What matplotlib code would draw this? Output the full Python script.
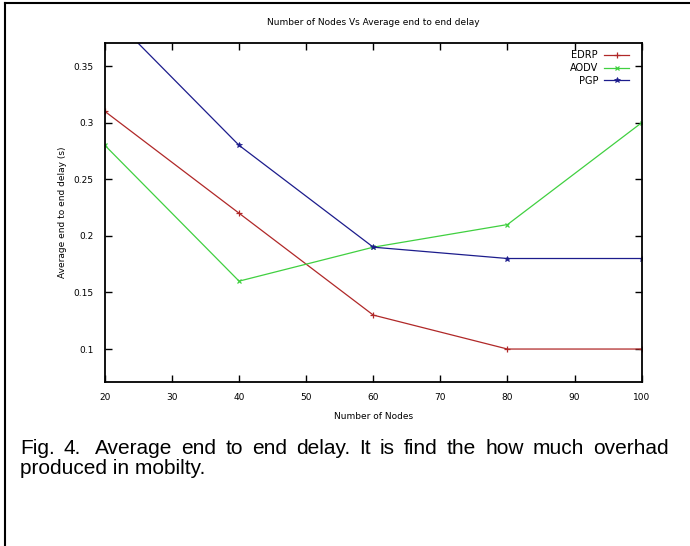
import matplotlib.pyplot as plt
from matplotlib.lines import Line2D

# data
nodes = [20, 40, 60, 80, 100]
edrp = [0.31, 0.22, 0.13, 0.10, 0.10]
aodv = [0.28, 0.16, 0.19, 0.21, 0.30]
pgp = [0.40, 0.28, 0.19, 0.18, 0.18]

x_ticks = [20, 30, 40, 50, 60, 70, 80, 90, 100]
y_ticks = [0.1, 0.15, 0.2, 0.25, 0.3, 0.35]
y_tick_labels = ['0.1', '0.15', '0.2', '0.25', '0.3', '0.35']

caption_1 = "Fig. 4.  Average end to end delay. It is find the how much overhad"
caption_2 = "produced in mobilty."

fig = plt.figure(figsize=(6.9, 5.46), dpi=100)
ax = fig.add_axes([0.152, 0.300, 0.778, 0.621])

c_red = '#b02828'
c_green = '#40d040'
c_blue = '#1c1c8c'

ax.plot(nodes, edrp, color=c_red, lw=0.9, marker='+', ms=4, mew=0.9, label='EDRP')
ax.plot(nodes, aodv, color=c_green, lw=0.9, marker='x', ms=3, mew=0.9, label='AODV')
ax.plot(nodes, pgp, color=c_blue, lw=0.9, marker='*', ms=4, mew=0.5, label='PGP')

ax.set_xlim(20, 100)
ax.set_ylim(0.0707, 0.3703)
ax.set_xticks(x_ticks)
ax.set_yticks(y_ticks)
ax.set_yticklabels(y_tick_labels)
ax.tick_params(direction='in', length=5, width=1, top=True, right=True,
               labelsize=6.5, pad=8, colors='black')
for s in ax.spines.values():
    s.set_linewidth(1.3)

ax.set_title('Number of Nodes Vs Average end to end delay', fontsize=6.5, pad=13)
ax.set_xlabel('Number of Nodes', fontsize=6.5, labelpad=7)
ax.set_ylabel('Average end to end delay (s)', fontsize=6.5, labelpad=5)

leg = ax.legend(loc='upper right', bbox_to_anchor=(0.984, 0.99), frameon=False,
                fontsize=7, markerfirst=False, handlelength=2.6, handletextpad=0.6,
                labelspacing=0.28, borderaxespad=0)
for t in leg.get_texts():
    t.set_ha('right')

# caption below the chart, first line justified to the right margin
cap_font = dict(family=['Liberation Sans', 'DejaVu Sans'], fontsize=15, va='center')
x_left, x_right = 20, 669
renderer = fig.canvas.get_renderer()
words = caption_1.split()
widths = []
for w in words:
    t = fig.text(0, 0, w, **cap_font)
    widths.append(t.get_window_extent(renderer).width)
    t.remove()
gaps = [1.0] * (len(words) - 1)
gaps[1] = 1.5  # double space after "Fig. 4."
scale = (x_right - x_left - sum(widths)) / sum(gaps)
pos = x_left
for i, w in enumerate(words):
    fig.text(pos / 690, 1 - 448 / 546, w, ha='left', **cap_font)
    if i < len(gaps):
        pos += widths[i] + gaps[i] * scale
fig.text(x_left / 690, 1 - 469 / 546, caption_2, ha='left', **cap_font)

# page frame: top and left lines
fig.add_artist(Line2D([5 / 690, 1], [1 - 3 / 546, 1 - 3 / 546], color='black', lw=1.5,
                      transform=fig.transFigure))
fig.add_artist(Line2D([5 / 690, 5 / 690], [0, 1 - 3 / 546], color='black', lw=1.5,
                      transform=fig.transFigure))

fig.savefig('out.png', dpi=100)
plt.close(fig)
